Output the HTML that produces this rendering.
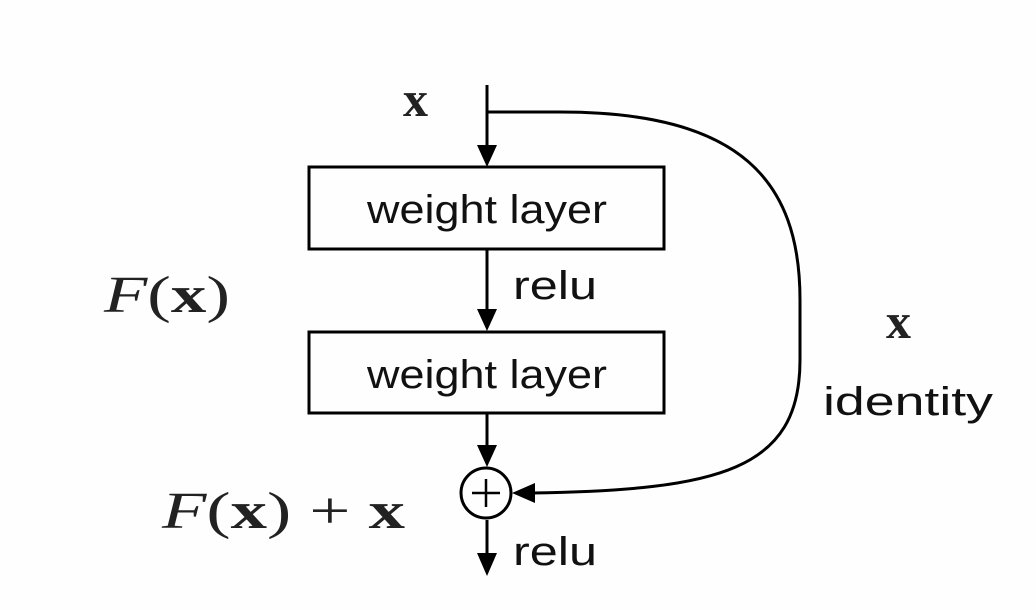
<!DOCTYPE html>
<html><head><style>
html,body{margin:0;padding:0;background:#fff;}
svg{display:block;}
</style></head><body>
<svg width="1036" height="610" viewBox="0 0 1036 610" xmlns="http://www.w3.org/2000/svg">
<rect width="1036" height="610" fill="#fefefe"/>
<g stroke="#000" stroke-width="3" fill="none">
<rect x="309" y="167" width="355" height="82"/>
<rect x="309" y="332" width="355" height="81"/>
<line x1="487" y1="85" x2="487" y2="150"/>
<line x1="487" y1="249" x2="487" y2="312"/>
<line x1="487" y1="413" x2="487" y2="450"/>
<line x1="487" y1="520" x2="487" y2="555"/>
<circle cx="486" cy="493" r="25"/>
<line x1="472" y1="493" x2="500" y2="493" stroke-width="2.5"/>
<line x1="486" y1="479" x2="486" y2="507" stroke-width="2.5"/>
<path d="M487 112 L560 112 C740 112 800 180 800 300 L800 360 C800 470 720 490 532 493"/>
</g>
<g fill="#000">
<polygon points="477,145 497,145 487,167"/>
<polygon points="477,309 497,309 487,331"/>
<polygon points="477,445 497,445 487,467"/>
<polygon points="477,553 497,553 487,576"/>
<polygon points="535,483 535,503 512,493"/>
</g>
<g font-family="Liberation Sans, sans-serif" font-size="40" fill="#111">
<text x="367" y="223" textLength="240" lengthAdjust="spacingAndGlyphs">weight layer</text>
<text x="367" y="388" textLength="240" lengthAdjust="spacingAndGlyphs">weight layer</text>
<text x="513" y="299" textLength="84" lengthAdjust="spacingAndGlyphs">relu</text>
<text x="513" y="565" textLength="84" lengthAdjust="spacingAndGlyphs">relu</text>
<text x="823" y="415" textLength="170" lengthAdjust="spacingAndGlyphs">identity</text>
</g>
<g font-family="Liberation Serif, serif" fill="#222">
<text x="403" y="116" font-size="50" font-weight="bold">x</text>
<text x="886" y="338" font-size="50" font-weight="bold">x</text>
<text x="104" y="312" font-size="52" textLength="126" lengthAdjust="spacingAndGlyphs"><tspan font-style="italic">F</tspan>(<tspan font-weight="bold">x</tspan>)</text>
<text x="162" y="528" font-size="52" textLength="243" lengthAdjust="spacingAndGlyphs"><tspan font-style="italic">F</tspan>(<tspan font-weight="bold">x</tspan>) + <tspan font-weight="bold">x</tspan></text>
</g>
</svg>
</body></html>
